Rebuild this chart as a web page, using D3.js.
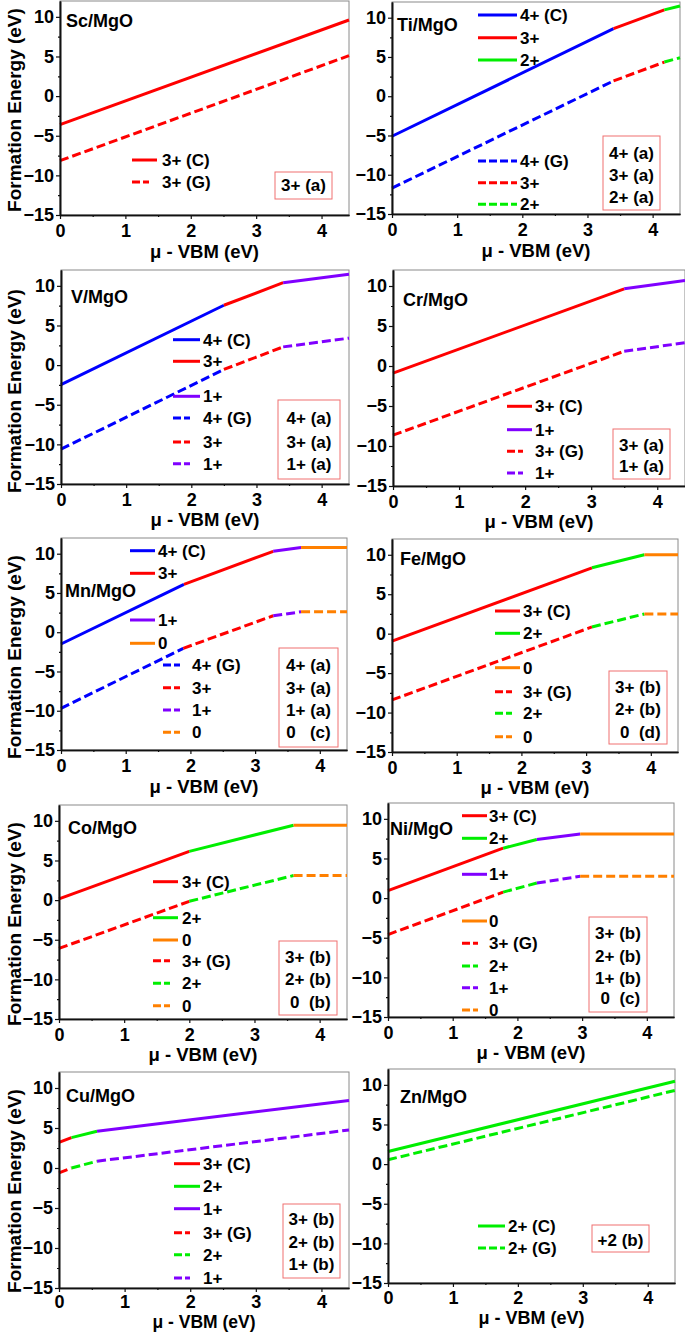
<!DOCTYPE html>
<html>
<head>
<meta charset="utf-8">
<script src="https://cdn.jsdelivr.net/npm/d3@7"></script>
<style>
  body { margin: 0; background: #fff; }
  svg { display: block; }
  text { font-family: "Liberation Sans", Arial, sans-serif; font-weight: bold; fill: #000; }
</style>
</head>
<body>
<svg width="685" height="1332"></svg>
<script>
// formation energy lines: [mu, E, charge of the next segment]
var scC = [[0, -3.6, 3], [4.42, 9.6]]
var scG = [[0, -8.15, 3], [4.42, 5.1]]
var tiC = [[0, -5.1, 4], [3.4, 8.6, 3], [4.18, 11.0, 2], [4.42, 11.5]]
var tiG = [[0, -11.7, 4], [3.4, 1.95, 3], [4.18, 4.35, 2], [4.42, 4.9]]
var vC = [[0, -2.45, 4], [2.5, 7.55, 3], [3.41, 10.4, 1], [4.42, 11.45]]
var vG = [[0, -10.6, 4], [2.5, -0.55, 3], [3.41, 2.3, 1], [4.42, 3.4]]
var crC = [[0, -0.9, 3], [3.5, 9.65, 1], [4.42, 10.7]]
var crG = [[0, -8.65, 3], [3.5, 1.85, 1], [4.42, 2.9]]
var mnC = [[0, -1.5, 4], [1.9, 6.1, 3], [3.28, 10.3, 1], [3.71, 10.8, 0], [4.42, 10.8]]
var mnG = [[0, -9.7, 4], [1.89, -2.05, 3], [3.28, 2.1, 1], [3.71, 2.6, 0], [4.42, 2.6]]
var feC = [[0, -0.95, 3], [3.09, 8.35, 2], [3.9, 10.0, 0], [4.42, 10.0]]
var feG = [[0, -8.4, 3], [3.09, 0.85, 2], [3.9, 2.5, 0], [4.42, 2.5]]
var coC = [[0, 0.15, 3], [2.0, 6.15, 2], [3.6, 9.45, 0], [4.42, 9.45]]
var coG = [[0, -6.1, 3], [2.0, -0.15, 2], [3.6, 3.1, 0], [4.42, 3.1]]
var niC = [[0, 0.95, 3], [1.78, 6.3, 2], [2.3, 7.4, 1], [2.97, 8.1, 0], [4.42, 8.1]]
var niG = [[0, -4.6, 3], [1.78, 0.75, 2], [2.3, 1.9, 1], [2.97, 2.75, 0], [4.42, 2.75]]
var cuC = [[0, 3.2, 3], [0.19, 3.8, 2], [0.58, 4.6, 1], [4.42, 8.45]]
var cuG = [[0, -0.6, 3], [0.19, 0.0, 2], [0.58, 0.85, 1], [4.42, 4.75]]
var znC = [[0, 1.6, 2], [4.42, 10.45]]
var znG = [[0, 0.55, 2], [4.42, 9.3]]

// legend entries: [text, charge, dashed]
var scLegend = [["3+ (C)", 3, 0], ["3+ (G)", 3, 1]]
var tiLegend = [["4+ (C)", 4, 0], ["3+", 3, 0], ["2+", 2, 0], ["4+ (G)", 4, 1], ["3+", 3, 1], ["2+", 2, 1]]
var vLegend = [["4+ (C)", 4, 0], ["3+", 3, 0], ["1+", 1, 0], ["4+ (G)", 4, 1], ["3+", 3, 1], ["1+", 1, 1]]
var crLegend = [["3+ (C)", 3, 0], ["1+", 1, 0], ["3+ (G)", 3, 1], ["1+", 1, 1]]
var mnLegend = [["4+ (C)", 4, 0], ["3+", 3, 0], ["1+", 1, 0], ["0", 0, 0], ["4+ (G)", 4, 1], ["3+", 3, 1], ["1+", 1, 1], ["0", 0, 1]]
var feLegend = [["3+ (C)", 3, 0], ["2+", 2, 0], ["0", 0, 0], ["3+ (G)", 3, 1], ["2+", 2, 1], ["0", 0, 1]]
var coLegend = [["3+ (C)", 3, 0], ["2+", 2, 0], ["0", 0, 0], ["3+ (G)", 3, 1], ["2+", 2, 1], ["0", 0, 1]]
var niLegend = [["3+ (C)", 3, 0], ["2+", 2, 0], ["1+", 1, 0], ["0", 0, 0], ["3+ (G)", 3, 1], ["2+", 2, 1], ["1+", 1, 1], ["0", 0, 1]]
var cuLegend = [["3+ (C)", 3, 0], ["2+", 2, 0], ["1+", 1, 0], ["3+ (G)", 3, 1], ["2+", 2, 1], ["1+", 1, 1]]
var znLegend = [["2+ (C)", 2, 0], ["2+ (G)", 2, 1]]

// boxed notes
var scBox = ["3+ (a)"]
var tiBox = ["4+ (a)", "3+ (a)", "2+ (a)"]
var vBox = ["4+ (a)", "3+ (a)", "1+ (a)"]
var crBox = ["3+ (a)", "1+ (a)"]
var mnBox = ["4+ (a)", "3+ (a)", "1+ (a)", "0   (c)"]
var feBox = ["3+ (b)", "2+ (b)", " 0  (d)"]
var coBox = ["3+ (b)", "2+ (b)", " 0  (b)"]
var niBox = ["3+ (b)", "2+ (b)", "1+ (b)", " 0  (c)"]
var cuBox = ["3+ (b)", "2+ (b)", "1+ (b)"]
var znBox = ["+2 (b)"]

var xTicks = [0, 1, 2, 3, 4]
var xMinor = [0.5, 1.5, 2.5, 3.5]
var yTicks = [-15, -10, -5, 0, 5, 10]
var yMinor = [-12.5, -7.5, -2.5, 2.5, 7.5]

var chargeColor = {4: "#0000ff", 3: "#ff0000", 2: "#00ee00", 1: "#8000ff", 0: "#ff8000"}

// layout of each panel (pixels)
var panels = [
  {name: "Sc/MgO", C: scC, G: scG, legend: scLegend, box: scBox,
   plot: [60, 1, 289, 214], label: [66, 21], ytitle: 110, xt: 37, tp: 5,
   leg: {s: [132, 157, 162], d: [132, 149, 162], ys: [160, 182]},
   boxRect: [275, 172, 332, 199], boxYs: [185.5]},
  {name: "Ti/MgO", C: tiC, G: tiG, legend: tiLegend, box: tiBox,
   plot: [392, 2, 288, 212], label: [397, 25], xt: 37, tp: 5,
   leg: {s: [478, 517, 520], d: [478, 517, 520], ys: [15, 37.7, 60, 161, 182.7, 204.3]},
   boxRect: [603, 136, 660, 210], boxYs: [153, 175, 197]},
  {name: "V/MgO", C: vC, G: vG, legend: vLegend, box: vBox,
   plot: [61, 270, 288, 214], label: [71, 297], ytitle: 391, xt: 36, tp: 5,
   leg: {s: [173, 200, 203], d: [173, 190, 203], ys: [339.7, 361.3, 396.3, 418, 442, 463.7]},
   boxRect: [278, 400, 340, 479], boxYs: [418, 442, 463.7]},
  {name: "Cr/MgO", C: crC, G: crG, legend: crLegend, box: crBox,
   plot: [393, 270, 292, 216], label: [403, 300], xt: 36, tp: 5,
   leg: {s: [507, 532, 535], d: [507, 523, 535], ys: [406.3, 429.7, 451.3, 473]},
   boxRect: [613, 429, 670, 479], boxYs: [444.7, 466.3]},
  {name: "Mn/MgO", C: mnC, G: mnG, legend: mnLegend, box: mnBox,
   plot: [61, 538, 286, 212], label: [65, 591], ytitle: 657, xt: 37, tp: 5,
   leg: {s: [130, 155, 158], d: [163, 180, 192], ys: [550.7, 573.3, 620, 643.3, 665, 687.7, 710, 732.3]},
   boxRect: [279, 648, 338, 747], boxYs: [665, 687.7, 710, 732.3]},
  {name: "Fe/MgO", C: feC, G: feG, legend: feLegend, box: feBox,
   plot: [392, 539, 286, 213], label: [400, 559], xt: 36, tp: 5,
   leg: {s: [495, 520, 523], d: [495, 512, 523], ys: [611, 633.3, 667.7, 691.7, 713.3, 736.7]},
   boxRect: [609, 671, 667, 744], boxYs: [686.7, 709.3, 731.7]},
  {name: "Co/MgO", C: coC, G: coG, legend: coLegend, box: coBox,
   plot: [59, 805, 288, 214], label: [68, 828], ytitle: 924, xt: 36, tp: 5,
   leg: {s: [153, 178, 182], d: [153, 170, 182], ys: [881.7, 917.7, 940, 960.7, 983.3, 1005.7]},
   boxRect: [279, 941, 337, 1015], boxYs: [956.7, 979.3, 1001.7]},
  {name: "Ni/MgO", C: niC, G: niG, legend: niLegend, box: niBox,
   plot: [388, 803, 286, 214], label: [390, 829], xt: 36, tp: 5,
   leg: {s: [462, 487, 489], d: [462, 478, 489], ys: [815.7, 838.3, 874.3, 921, 943.3, 966, 987.7, 1010]},
   boxRect: [589, 917, 647, 1012], boxYs: [933.3, 956, 977.7, 998.3]},
  {name: "Cu/MgO", C: cuC, G: cuG, legend: cuLegend, box: cuBox,
   plot: [59, 1072, 290, 216], label: [66, 1096], ytitle: 1191, xt: 33.5, tp: 3, xfs: 17.5,
   leg: {s: [174, 200, 203], d: [174, 190, 203], ys: [1163.7, 1186.3, 1208.7, 1232.7, 1254.7, 1278]},
   boxRect: [283, 1204, 340, 1278], boxYs: [1218.7, 1242, 1263.7]},
  {name: "Zn/MgO", C: znC, G: znG, legend: znLegend, box: znBox,
   plot: [388, 1069, 287, 214], label: [400, 1097], xt: 35, tp: 4, xfs: 18,
   leg: {s: [478, 505, 508], d: [478, 505, 508], ys: [1226, 1248]},
   boxRect: [592, 1225, 649, 1252], boxYs: [1240.3]}
]

var svg = d3.select("svg")

function drawPanel(p) {
  var l = p.plot[0], t = p.plot[1], w = p.plot[2], h = p.plot[3]
  var x = d3.scaleLinear().domain([0, 4.42]).range([l, l + w])
  var y = d3.scaleLinear().domain([-15, 12]).range([t + h, t])
  var g = svg.append("g")

  // frame
  g.append("rect")
    .attr("x", l).attr("y", t).attr("width", w).attr("height", h)
    .attr("fill", "none").attr("stroke", "#8a8a8a").attr("stroke-width", 1)

  // segments: solid (C) and dashed (G)
  var lineGen = d3.line().x(function (d) { return x(d[0]) }).y(function (d) { return y(d[1]) })
  var sets = [[p.C, 0], [p.G, 1]]
  sets.forEach(function (s) {
    var pts = s[0]
    for (var i = 0; i < pts.length - 1; i++) {
      g.append("path")
        .attr("d", lineGen([pts[i], pts[i + 1]]))
        .attr("fill", "none")
        .attr("stroke", chargeColor[pts[i][2]])
        .attr("stroke-width", 3)
        .attr("stroke-dasharray", s[1] ? "9,4" : null)
    }
  })

  // axes
  g.append("g").attr("transform", "translate(0," + (t + h) + ")")
    .call(d3.axisBottom(x).tickValues(xTicks).tickSize(4).tickSizeOuter(0).tickPadding(p.tp).tickFormat(d3.format("d")))
  g.append("g").attr("transform", "translate(0," + (t + h) + ")")
    .call(d3.axisBottom(x).tickValues(xMinor).tickSize(2).tickSizeOuter(0).tickFormat(""))
  g.append("g").attr("transform", "translate(" + l + ",0)")
    .call(d3.axisLeft(y).tickValues(yTicks).tickSize(4).tickSizeOuter(0).tickPadding(2).tickFormat(d3.format("d")))
  g.append("g").attr("transform", "translate(" + l + ",0)")
    .call(d3.axisLeft(y).tickValues(yMinor).tickSize(2).tickSizeOuter(0).tickFormat(""))
  g.selectAll(".domain").attr("stroke", "#111").attr("stroke-width", 1.6)
  g.selectAll(".tick line").attr("stroke", "#111").attr("stroke-width", 1.2)
  g.selectAll(".tick text").attr("font-size", 18).attr("font-family", null).attr("fill", "#000")

  // x title
  g.append("text")
    .attr("x", l + w / 2).attr("y", t + h + p.xt).attr("dy", "0.35em")
    .attr("text-anchor", "middle").attr("font-size", p.xfs || 18.5)
    .text("\u03bc - VBM (eV)")

  if (p.ytitle) {
    g.append("text")
      .attr("transform", "translate(14," + p.ytitle + ") rotate(-90)")
      .attr("dy", "0.35em")
      .attr("text-anchor", "middle").attr("font-size", 19)
      .text("Formation Energy (eV)")
  }

  // panel label
  g.append("text")
    .attr("x", p.label[0]).attr("y", p.label[1]).attr("dy", "0.35em")
    .attr("font-size", 18).text(p.name)

  // legend
  p.legend.forEach(function (e, i) {
    var geo = e[2] ? p.leg.d : p.leg.s
    var yy = p.leg.ys[i]
    g.append("line")
      .attr("x1", geo[0]).attr("x2", geo[1]).attr("y1", yy).attr("y2", yy)
      .attr("stroke", chargeColor[e[1]]).attr("stroke-width", 3)
      .attr("stroke-dasharray", e[2] ? "8,3" : null)
    g.append("text")
      .attr("x", geo[2]).attr("y", yy).attr("dy", "0.35em")
      .attr("font-size", 17).text(e[0])
  })

  // boxed notes
  var b = p.boxRect
  g.append("rect")
    .attr("x", b[0]).attr("y", b[1]).attr("width", b[2] - b[0]).attr("height", b[3] - b[1])
    .attr("fill", "none").attr("stroke", "#f07070").attr("stroke-width", 1)
  p.box.forEach(function (s, i) {
    g.append("text")
      .attr("x", (b[0] + b[2]) / 2).attr("y", p.boxYs[i]).attr("dy", "0.35em")
      .attr("text-anchor", "middle").attr("font-size", 17)
      .style("white-space", "pre")
      .text(s)
  })
}

panels.forEach(drawPanel)
</script>
</body>
</html>
